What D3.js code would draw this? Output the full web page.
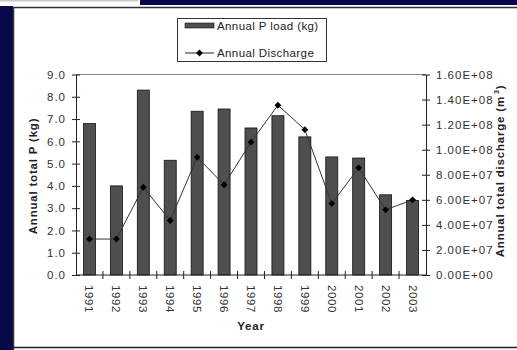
<!DOCTYPE html>
<html lang="en">
	<head>
		<meta charset="utf-8">
		<title>Annual P load and discharge</title>
		<script type="text/javascript" src="https://cdnjs.cloudflare.com/ajax/libs/d3/7.8.5/d3.min.js"></script>
		<style type="text/css">
			body { margin: 0; background: #ffffff; }
			svg { display: block; font-family: Arial, "Liberation Sans", sans-serif; }
			.tick text { fill: #333333; font-size: 11.5px; letter-spacing: 1px; }
			.axisTitle { font-weight: bold; font-size: 11.5px; fill: #222222; letter-spacing: 0.8px; }
		</style>
	</head>
	<body>
		<script type="text/javascript">

		var w = 517;
		var h = 350;

		// data
		var years = ["1991", "1992", "1993", "1994", "1995", "1996", "1997",
		             "1998", "1999", "2000", "2001", "2002", "2003"];
		var pLoad = [6.8, 4.0, 8.3, 5.15, 7.35, 7.45, 6.6, 7.15, 6.2, 5.3, 5.25, 3.6, 3.35];
		var discharge = [2.87e7, 2.87e7, 7.0e7, 4.35e7, 9.4e7, 7.2e7, 1.06e8,
		                 1.355e8, 1.16e8, 5.7e7, 8.55e7, 5.2e7, 6.0e7];
		var leftTicks = [0, 1, 2, 3, 4, 5, 6, 7, 8, 9];
		var rightTicks = [0, 2e7, 4e7, 6e7, 8e7, 1e8, 1.2e8, 1.4e8, 1.6e8];

		var plotL = 76, plotR = 426, plotT = 74.5, plotB = 275;

		var svg = d3.select("body")
					.append("svg")
					.attr("width", w)
					.attr("height", h);

		// navy slide edges and the white chart panel
		svg.append("rect")
			.attr("width", w).attr("height", h)
			.attr("fill", "#ffffff");
		svg.append("rect")
			.attr("x", 0).attr("y", 6).attr("width", 13).attr("height", h - 6)
			.attr("fill", "#08084a");
		svg.append("rect")
			.attr("x", 140).attr("y", 0).attr("width", w - 140).attr("height", 5)
			.attr("fill", "#08084a");
		svg.append("rect")
			.attr("x", 0).attr("y", 0).attr("width", 138).attr("height", 1.5)
			.attr("fill", "#c8c8c8");
		svg.append("path")
			.attr("d", "M13.5," + h + "V7.5H" + w)
			.attr("fill", "none").attr("stroke", "#333").attr("stroke-width", 1.5);
		svg.append("line")
			.attr("x1", 13).attr("x2", w).attr("y1", 347.5).attr("y2", 347.5)
			.attr("stroke", "#222").attr("stroke-width", 1.5);

		var yScale = d3.scaleLinear()
					.domain([0, 9])
					.range([plotB, plotT]);

		var y2Scale = d3.scaleLinear()
					.domain([0, 1.6e8])
					.range([plotB, plotT]);

		var bandW = (plotR - plotL) / years.length;
		var cx = function(d, i) { return plotL + bandW * (i + 0.5); };

		// plot frame: top line
		svg.append("line")
			.attr("x1", plotL).attr("x2", plotR)
			.attr("y1", plotT).attr("y2", plotT)
			.attr("stroke", "#888").attr("stroke-width", 1);

		// bars
		svg.selectAll("rect.bar")
			.data(pLoad)
			.enter()
			.append("rect")
			.attr("class", "bar")
			.attr("x", function(d, i) { return cx(d, i) - 6; })
			.attr("y", function(d) { return yScale(d); })
			.attr("width", 12)
			.attr("height", function(d) { return plotB - yScale(d); })
			.attr("fill", "#4f4f4f")
			.attr("stroke", "#111")
			.attr("stroke-width", 0.8);

		// discharge line
		var line = d3.line()
					.x(function(d, i) { return cx(d, i); })
					.y(function(d) { return y2Scale(d); });

		svg.append("path")
			.datum(discharge)
			.attr("d", line)
			.attr("fill", "none")
			.attr("stroke", "#333")
			.attr("stroke-width", 1);

		svg.selectAll("path.mark")
			.data(discharge)
			.enter()
			.append("path")
			.attr("class", "mark")
			.attr("d", d3.symbol().type(d3.symbolDiamond2).size(30))
			.attr("transform", function(d, i) {
				return "translate(" + cx(d, i) + "," + y2Scale(d) + ")";
			})
			.attr("fill", "#000");

		// left axis
		var yAxis = d3.axisLeft(yScale)
					.tickValues(leftTicks)
					.tickFormat(d3.format(".1f"))
					.tickSizeInner(4)
					.tickSizeOuter(0)
					.tickPadding(6);

		var gl = svg.append("g")
			.attr("transform", "translate(" + plotL + ",0)")
			.call(yAxis);
		gl.selectAll(".tick line").attr("x2", 4).attr("x1", -4);

		// right axis
		var y2Axis = d3.axisRight(y2Scale)
					.tickValues(rightTicks)
					.tickFormat(function(d) {
						var s = d3.format(".2e")(d);
						var parts = s.split("e");
						var ex = parseInt(parts[1]);
						return parts[0] + "E+" + (ex < 10 ? "0" + ex : ex);
					})
					.tickSizeInner(4)
					.tickSizeOuter(0)
					.tickPadding(6);

		var gr = svg.append("g")
			.attr("transform", "translate(" + plotR + ",0)")
			.call(y2Axis);
		gr.selectAll(".tick line").attr("x1", -4).attr("x2", 4);

		// bottom axis: ticks between categories
		svg.append("line")
			.attr("x1", plotL).attr("x2", plotR)
			.attr("y1", plotB).attr("y2", plotB)
			.attr("stroke", "#222");

		var sep = d3.range(1, years.length);
		svg.selectAll("line.sep")
			.data(sep)
			.enter()
			.append("line")
			.attr("class", "sep")
			.attr("x1", function(d) { return plotL + bandW * d; })
			.attr("x2", function(d) { return plotL + bandW * d; })
			.attr("y1", plotB - 4)
			.attr("y2", plotB + 4)
			.attr("stroke", "#222");

		svg.selectAll("text.year")
			.data(years)
			.enter()
			.append("text")
			.attr("class", "year")
			.attr("transform", function(d, i) {
				return "translate(" + (cx(d, i) - 4) + "," + (plotB + 10) + ") rotate(90)";
			})
			.attr("font-size", 11.5)
			.attr("letter-spacing", 0.6)
			.attr("fill", "#333")
			.text(function(d) { return d; });

		svg.selectAll(".domain").attr("stroke", "#222");
		svg.selectAll(".tick line").attr("stroke", "#222");

		// axis titles
		svg.append("text")
			.attr("class", "axisTitle")
			.attr("text-anchor", "middle")
			.attr("transform", "translate(37,176) rotate(-90)")
			.text("Annual total P (kg)");

		var rt = svg.append("text")
			.attr("class", "axisTitle")
			.attr("text-anchor", "middle")
			.attr("transform", "translate(504,171) rotate(-90)");
		rt.append("tspan").text("Annual total discharge (m");
		rt.append("tspan").attr("font-size", 7).attr("dy", -5).attr("dx", 2).text("3");
		rt.append("tspan").attr("dy", 5).text(")");

		svg.append("text")
			.attr("class", "axisTitle")
			.attr("text-anchor", "middle")
			.attr("x", (plotL + plotR) / 2)
			.attr("y", 330)
			.text("Year");

		// legend
		var lg = svg.append("g").attr("transform", "translate(177,18)");
		lg.append("rect")
			.attr("x", 0.5).attr("y", 0.5).attr("width", 149).attr("height", 43)
			.attr("fill", "#fff").attr("stroke", "#333");
		lg.append("rect")
			.attr("x", 8).attr("y", 5).attr("width", 29).attr("height", 5)
			.attr("fill", "#4f4f4f").attr("stroke", "#111").attr("stroke-width", 0.6);
		lg.append("text")
			.attr("x", 40).attr("y", 12)
			.attr("font-size", 11.5).attr("letter-spacing", 0.4).attr("fill", "#222")
			.text("Annual P load (kg)");
		lg.append("line")
			.attr("x1", 8).attr("x2", 37).attr("y1", 35).attr("y2", 35)
			.attr("stroke", "#222");
		lg.append("path")
			.attr("d", d3.symbol().type(d3.symbolDiamond2).size(30))
			.attr("transform", "translate(22.5,35)")
			.attr("fill", "#000");
		lg.append("text")
			.attr("x", 40).attr("y", 39)
			.attr("font-size", 11.5).attr("letter-spacing", 0.4).attr("fill", "#222")
			.text("Annual Discharge");

		</script>
	</body>
</html>
